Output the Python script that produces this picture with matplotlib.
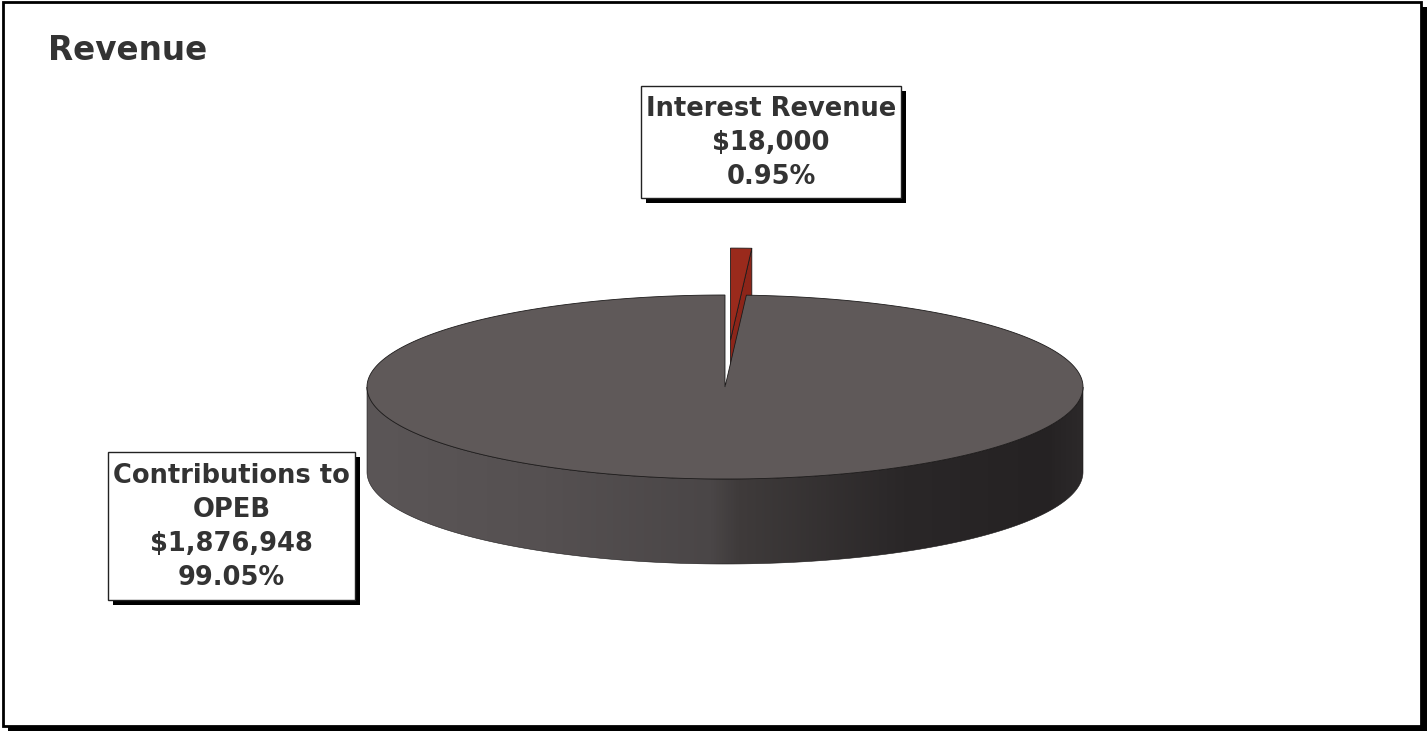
#!/usr/bin/env python3
"""3-D style revenue pie with one exploded slice and boxed labels."""
import numpy as np
import matplotlib.pyplot as plt
from matplotlib.patches import Polygon, Rectangle
from matplotlib.colors import LinearSegmentedColormap

OUT_PNG = "out.png"

CATEGORIES = ["Interest Revenue", "Contributions to\nOPEB"]
VALUES = [18000, 1876948]
TOP_COLORS = ["#9a2a1c", "#5f5959"]
FACE_COLORS = ["#8c2519", "#4a4646"]
EXPLODE = [0.51, 0.0]

W, H = 1427, 731
CX, CY = 725, 387      # centre of the top face (px)
RX, RY = 358, 92       # ellipse radii of the top face
DEPTH = 85             # thickness of the disc
TEXT = "#333333"
EDGE = "#1c1a1a"

# side wall shading, left to right
WALL_CMAP = LinearSegmentedColormap.from_list("wall", [
    (0.00, "#5b5657"), (0.25, "#555051"), (0.48, "#4a4647"),
    (0.52, "#3f3b3b"), (0.75, "#2a2728"), (0.95, "#252223"), (1.00, "#2c292a")])


def pts(theta, dx=0.0, dy=0.0, drop=0.0):
    t = np.radians(np.atleast_1d(theta))
    return np.column_stack([CX + dx + RX * np.cos(t),
                            CY + dy - RY * np.sin(t) + drop])


def front_intervals(t0, t1):
    # parts of [t0, t1] lying on the near half of the disc (sin < 0)
    out = []
    for k in range(-2, 3):
        lo, hi = -180 + 360 * k, 360 * k
        a, b = max(t0, lo), min(t1, hi)
        if b > a:
            out.append((a, b))
    return out


def draw_slice(ax, t0, t1, top_c, face_c, explode):
    mid = np.radians((t0 + t1) / 2)
    dx = explode * RX * np.cos(mid)
    dy = -explode * RY * np.sin(mid)
    apex = np.array([[CX + dx, CY + dy]])

    # radial faces that turn towards the viewer
    if np.cos(np.radians(t0)) > 1e-6:
        r = pts(t0, dx, dy)
        quad = np.vstack([apex, r, r + [0, DEPTH], apex + [0, DEPTH]])
        ax.add_patch(Polygon(quad, closed=True, fc=face_c, ec=EDGE, lw=0.6, zorder=2))
    if np.cos(np.radians(t1)) < -1e-6:
        r = pts(t1, dx, dy)
        quad = np.vstack([apex, r, r + [0, DEPTH], apex + [0, DEPTH]])
        ax.add_patch(Polygon(quad, closed=True, fc=face_c, ec=EDGE, lw=0.6, zorder=2))

    # outer wall on the near side, shaded with a horizontal gradient
    for a, b in front_intervals(t0, t1):
        th = np.linspace(a, b, 200)
        upper = pts(th, dx, dy)
        lower = pts(th[::-1], dx, dy, DEPTH)
        wall = Polygon(np.vstack([upper, lower]), closed=True, fc="none",
                       ec=EDGE, lw=0.4, zorder=3)
        ax.add_patch(wall)
        grad = np.linspace(0, 1, 512)[None, :]
        im = ax.imshow(grad, cmap=WALL_CMAP, aspect="auto", zorder=2,
                       extent=[CX + dx - RX, CX + dx + RX,
                               CY + dy + RY + DEPTH, CY + dy - RY])
        im.set_clip_path(wall)

    # top face
    th = np.linspace(t0, t1, max(int(abs(t1 - t0) * 2), 8))
    top = np.vstack([apex, pts(th, dx, dy)])
    ax.add_patch(Polygon(top, closed=True, fc=top_c, ec=EDGE, lw=0.6, zorder=4))


def label_box(ax, x0, y0, x1, y1, text):
    ax.add_patch(Rectangle((x0 + 5, y0 + 5), x1 - x0, y1 - y0, fc="black",
                           ec="none", zorder=6))
    ax.add_patch(Rectangle((x0, y0), x1 - x0, y1 - y0, fc="white",
                           ec="#222222", lw=1.0, zorder=7))
    ax.text((x0 + x1) / 2, (y0 + y1) / 2 + 1, text, ha="center", va="center",
            fontsize=18.5, fontweight="bold", color=TEXT, linespacing=1.4,
            zorder=8)


def main():
    fig = plt.figure(figsize=(W / 100, H / 100), dpi=100)
    ax = fig.add_axes([0, 0, 1, 1])
    ax.set_xlim(0, W)
    ax.set_ylim(H, 0)
    ax.axis("off")

    # outer frame with drop shadow
    ax.add_patch(Rectangle((8, 7), W - 8, H - 7, fc="black", ec="none", zorder=0))
    ax.add_patch(Rectangle((3, 2), 1418, 724, fc="white", ec="black", lw=2, zorder=0.5))

    ax.text(48, 51, "Revenue", fontsize=23.5, fontweight="bold", color=TEXT,
            ha="left", va="center")

    total = sum(VALUES)
    fracs = [v / total for v in VALUES]

    # slices run clockwise from 12 o'clock
    spans = []
    start = 90.0
    for f in fracs:
        spans.append((start - 360 * f, start))
        start -= 360 * f

    order = sorted(range(len(VALUES)),
                   key=lambda i: -np.sin(np.radians(sum(spans[i]) / 2)))
    for i in order:
        t0, t1 = spans[i]
        draw_slice(ax, t0, t1, TOP_COLORS[i], FACE_COLORS[i], EXPLODE[i])

    labels = [f"{c}\n${v:,.0f}\n{f * 100:.2f}%"
              for c, v, f in zip(CATEGORIES, VALUES, fracs)]
    label_box(ax, 641, 86, 901, 198, labels[0])
    label_box(ax, 108, 452, 355, 600, labels[1])

    fig.savefig(OUT_PNG, dpi=100)


if __name__ == "__main__":
    main()
